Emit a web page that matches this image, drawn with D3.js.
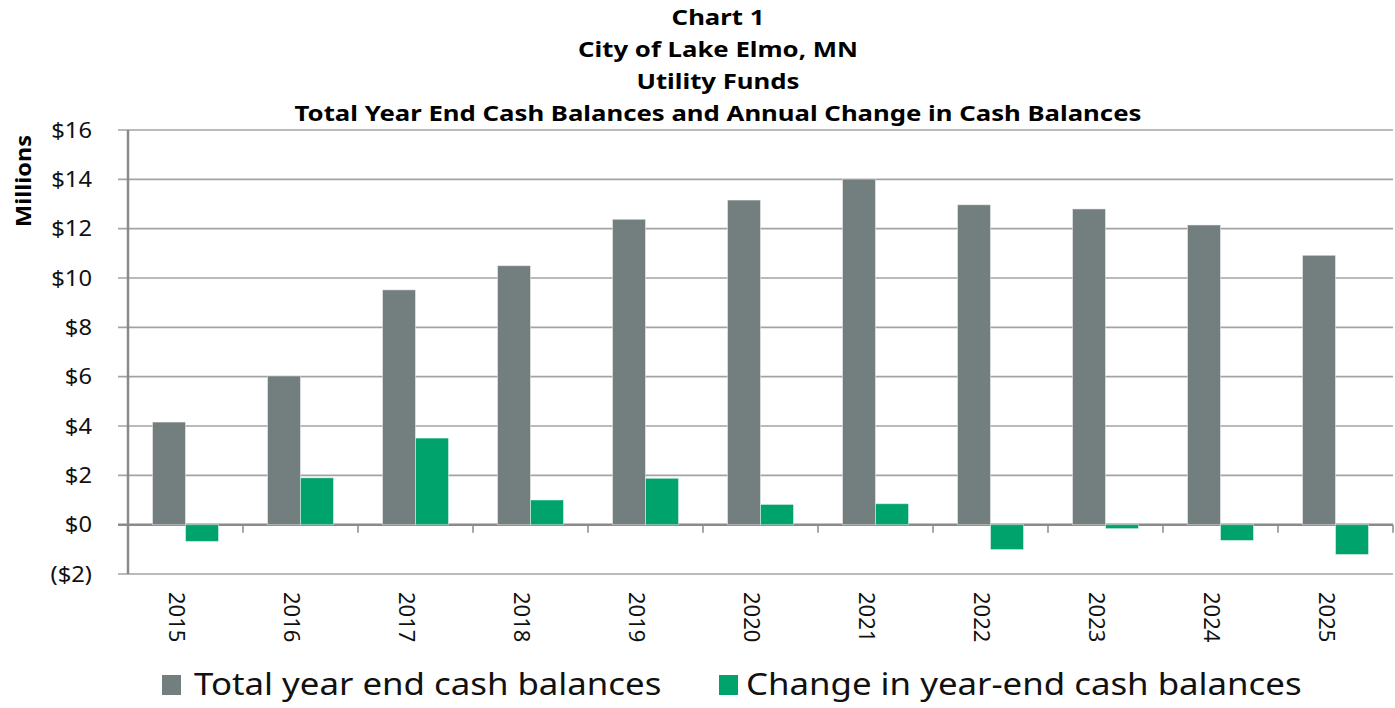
<!DOCTYPE html>
<html>
<head>
<meta charset="utf-8">
<script src="https://cdn.jsdelivr.net/npm/d3@7"></script>
<style>
  body { margin: 0; background: #fff; }
  svg { display: block; font-family: "Noto Sans", "Open Sans", sans-serif; }
</style>
</head>
<body>
<div id="chart"></div>
<script>
// Data (millions of dollars)
const years = ["2015", "2016", "2017", "2018", "2019", "2020", "2021", "2022", "2023", "2024", "2025"];
const totalBalances = [4.16, 6.03, 9.52, 10.50, 12.38, 13.16, 14.01, 12.97, 12.80, 12.15, 10.92];
const changeBalances = [-0.68, 1.90, 3.51, 1.00, 1.88, 0.82, 0.85, -1.01, -0.16, -0.64, -1.21];
const seriesNames = ["Total year end cash balances", "Change in year-end cash balances"];
const yTicks = [-2, 0, 2, 4, 6, 8, 10, 12, 14, 16];
const titleLines = [
  "Chart 1",
  "City of Lake Elmo, MN",
  "Utility Funds",
  "Total Year End Cash Balances and Annual Change in Cash Balances",
];

const width = 1395;
const height = 708;
const margin = { top: 130, right: 2, bottom: 134, left: 128 };

const colors = { [seriesNames[0]]: "#737f7e", [seriesNames[1]]: "#00a36c" };

const rows = years.map((year, i) => ({
  year,
  values: [
    { key: seriesNames[0], value: totalBalances[i] },
    { key: seriesNames[1], value: changeBalances[i] },
  ],
}));

// The original font is wider than Noto Sans, so stretch text a bit
function widen(sel, factor) {
  sel.each(function () {
    const len = this.getComputedTextLength();
    d3.select(this)
      .attr("textLength", len * factor)
      .attr("lengthAdjust", "spacingAndGlyphs");
  });
}

const svg = d3
  .select("#chart")
  .append("svg")
  .attr("width", width)
  .attr("height", height);

// Scales
const x0 = d3
  .scaleBand()
  .domain(years)
  .range([margin.left, width - margin.right])
  .paddingInner(0.426)
  .paddingOuter(0.213);

const x1 = d3.scaleBand().domain(seriesNames).range([0, x0.bandwidth()]);

const y = d3
  .scaleLinear()
  .domain([-2, 16])
  .range([height - margin.bottom, margin.top]);

// Gridlines
svg
  .append("g")
  .selectAll("line")
  .data(yTicks)
  .enter()
  .append("line")
  .attr("x1", margin.left - 10)
  .attr("x2", width - margin.right)
  .attr("y1", (d) => y(d))
  .attr("y2", (d) => y(d))
  .attr("stroke", (d) => (d === 0 ? "#8a8a8a" : "#a3a3a3"))
  .attr("stroke-width", (d) => (d === 0 ? 2.5 : 1.6));

// Y axis labels
const yAxis = svg
  .append("g")
  .attr("transform", `translate(${margin.left},0)`)
  .call(
    d3
      .axisLeft(y)
      .tickValues(yTicks)
      .tickSize(0)
      .tickPadding(36)
      .tickFormat((d) => (d < 0 ? `($${-d})` : `$${d}`)),
  );
yAxis.select(".domain").remove();
yAxis
  .selectAll("text")
  .attr("font-family", "Noto Sans, sans-serif")
  .style("font-size", "22px")
  .attr("fill", "#111")
  .call(widen, 1.08);

// Bars
const groups = svg
  .append("g")
  .selectAll("g")
  .data(rows)
  .enter()
  .append("g")
  .attr("transform", (d) => `translate(${x0(d.year)},0)`);

groups
  .selectAll("rect")
  .data((d) => d.values)
  .enter()
  .append("rect")
  .attr("x", (d) => x1(d.key))
  .attr("width", x1.bandwidth())
  .attr("y", (d) => y(Math.max(0, d.value)))
  .attr("height", (d) => Math.abs(y(d.value) - y(0)))
  .attr("fill", (d) => colors[d.key])
  .attr("stroke", "#ffffff")
  .attr("stroke-opacity", 0.45)
  .attr("stroke-width", 1);

// Left axis line
svg
  .append("line")
  .attr("x1", margin.left)
  .attr("x2", margin.left)
  .attr("y1", y(16))
  .attr("y2", y(-2))
  .attr("stroke", "#8a8a8a")
  .attr("stroke-width", 2.5);

// Category tick marks on the zero line
svg
  .append("g")
  .selectAll("line")
  .data(years)
  .enter()
  .append("line")
  .attr("x1", (d) => x0(d) - x0.step() * x0.paddingOuter() + x0.step())
  .attr("x2", (d) => x0(d) - x0.step() * x0.paddingOuter() + x0.step())
  .attr("y1", y(0))
  .attr("y2", y(0) + 8)
  .attr("stroke", "#8a8a8a")
  .attr("stroke-width", 1.5);

// Year labels, rotated
svg
  .append("g")
  .selectAll("text")
  .data(years)
  .enter()
  .append("text")
  .attr("transform", (d) => `translate(${x0(d) + x0.bandwidth() / 2 - 17},592) rotate(90)`)
  .style("font-size", "22px")
  .attr("fill", "#111")
  .text((d) => d);

// Y axis title
svg
  .append("text")
  .attr("transform", `translate(31,181) rotate(-90)`)
  .attr("text-anchor", "middle")
  .style("font-size", "21px")
  .style("font-weight", "700")
  .attr("fill", "#000")
  .text("Millions")
  .call(widen, 1.12);

// Title
svg
  .append("g")
  .selectAll("text")
  .data(titleLines)
  .enter()
  .append("text")
  .attr("x", 718)
  .attr("y", (d, i) => 25 + i * 32)
  .attr("text-anchor", "middle")
  .style("font-size", "22px")
  .style("font-weight", "700")
  .attr("fill", "#000")
  .text((d) => d)
  .call(widen, 1.17);

// Legend
const legendX = [162, 719];
const legend = svg
  .append("g")
  .selectAll("g")
  .data(seriesNames)
  .enter()
  .append("g")
  .attr("transform", (d, i) => `translate(${legendX[i]},675)`);

legend
  .append("rect")
  .attr("width", 19)
  .attr("height", 20)
  .attr("fill", (d) => colors[d]);

legend
  .append("text")
  .attr("x", (d, i) => (i === 0 ? 32 : 27))
  .attr("y", 20)
  .style("font-size", "30px")
  .attr("fill", "#111")
  .text((d) => d)
  .call(widen, 1.16);
</script>
</body>
</html>
